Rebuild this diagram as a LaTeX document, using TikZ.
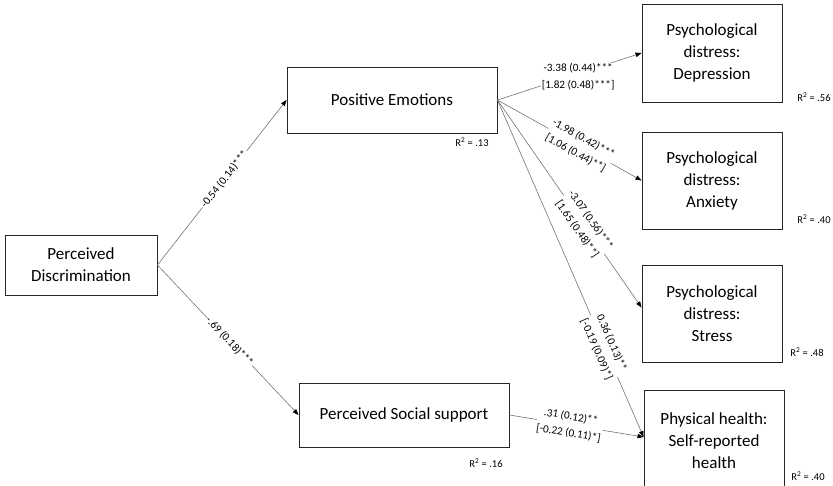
\documentclass[tikz,border=0pt]{standalone}
\usepackage{fontspec}
\setmainfont{Carlito}
\usetikzlibrary{arrows.meta,calc}
\begin{document}
\begin{tikzpicture}[x=1pt,y=-1pt,
  box/.style={draw=black!85,line width=0.9pt,align=center,font=\fontsize{17}{22}\selectfont,inner sep=0pt},
  conn/.style={draw=black!55,line width=0.6pt,-{Triangle[length=6pt,width=4.5pt,color=black]}},
  lab/.style={fill=white,inner sep=1pt,align=center,font=\fontsize{11.2}{16.5}\selectfont,text=black},
  rsq/.style={font=\fontsize{10.5}{12}\selectfont,inner sep=0pt}]
\useasboundingbox (0,0) rectangle (833,486);
\node[box,minimum width=152pt,minimum height=60pt] (pd) at (81,265) {Perceived\\Discrimination};
\node[box,minimum width=210pt,minimum height=66pt] (pe) at (392,100) {Positive Emotions};
\node[box,minimum width=210pt,minimum height=64pt] (pss) at (404,415) {Perceived Social support};
\node[box,minimum width=140pt,minimum height=98pt] (dep) at (712,53) {Psychological\\distress:\\Depression};
\node[box,minimum width=140pt,minimum height=97pt] (anx) at (712,180.5) {Psychological\\distress:\\Anxiety};
\node[box,minimum width=140pt,minimum height=97pt] (str) at (712,313.5) {Psychological\\distress:\\Stress};
\node[box,minimum width=140pt,minimum height=102pt] (phy) at (714,441) {Physical health:\\Self-reported\\health};
\coordinate (strin) at ([yshift=6pt]str.west);
\coordinate (phyin) at ([yshift=4pt]phy.west);
\draw[conn] (pd.east) -- (pe.west) node[lab,sloped,pos=0.52] {-0.54 (0.14)***};
\draw[conn] (pd.east) -- (pss.west) node[lab,sloped,pos=0.51] {-.69 (0.18)***};
\draw[conn] (pe.east) -- (dep.west) node[lab,pos=0.56,yshift=-3pt] {-3.38 (0.44)***\\{}[1.82 (0.48)***]};
\draw[conn] (pe.east) -- (anx.west) node[lab,sloped,pos=0.57] {-1.98 (0.42)***\\{}[1.06 (0.44)**]};
\draw[conn] (pe.east) -- (strin) node[lab,sloped,pos=0.6] {-3.07 (0.56)***\\{}[1.65 (0.48)**]};
\draw[conn] (pe.east) -- (phyin) node[lab,sloped,pos=0.73] {0.36 (0.13)**\\{}[-0.19 (0.09)*]};
\draw[conn] (pss.east) -- (phyin) node[lab,sloped,pos=0.45] {.31 (0.12)**\\{}[-0.22 (0.11)*]};
\node[rsq] (r1) at (472,142) {R\textsuperscript{2} = .13};
\node[rsq] (r2) at (486,463) {R\textsuperscript{2} = .16};
\node[rsq] (r3) at (814,97) {R\textsuperscript{2} = .56};
\node[rsq] (r4) at (814,219) {R\textsuperscript{2} = .40};
\node[rsq] (r5) at (807,352) {R\textsuperscript{2} = .48};
\node[rsq] (r6) at (808,476) {R\textsuperscript{2} = .40};
\end{tikzpicture}
\end{document}
